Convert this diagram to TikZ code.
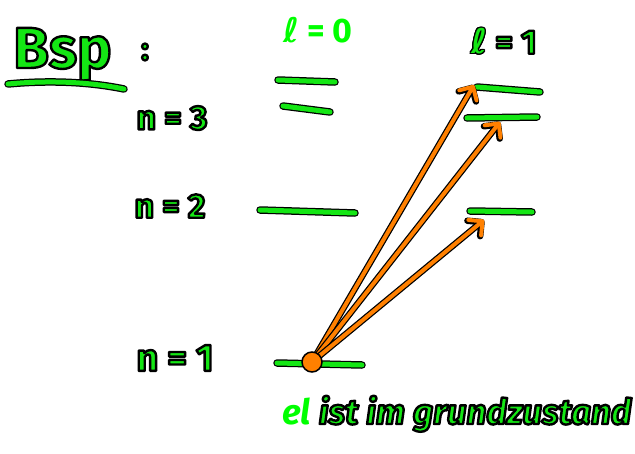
\documentclass[tikz,border=0pt]{standalone}
\usepackage{fontspec}
\setmainfont{Fira Sans}
\newfontfamily\dejavu{DejaVu Sans}
\usepackage{contour}
\contourlength{1.2pt}
\usetikzlibrary{arrows.meta}
\definecolor{hgreen}{RGB}{20,230,20}
\definecolor{lgreen}{RGB}{0,255,0}
\definecolor{horange}{RGB}{255,128,0}
\newcommand\outl[1]{\special{pdf:literal direct 2 Tr 2.4 w 0 G 1 j 0.078 0.902 0.078 rg}#1\special{pdf:literal direct 0 Tr}}
\tikzset{
  lev/.style={draw=hgreen, line width=5pt, line cap=round,
    preaction={draw=black, line width=7.5pt, line cap=round}},
  exc/.style={draw=horange, line width=4pt, line cap=round, line join=round,
    -{Straight Barb[length=10pt,width=20pt,round]},
    preaction={draw=black, line width=6.5pt, line cap=round, line join=round,
    -{Straight Barb[length=10pt,width=20pt,round]}}},
  lbl/.style={text=hgreen, inner sep=0pt},
  plain/.style={text=lgreen, inner sep=0pt}
}
\begin{document}
\begin{tikzpicture}[x=1pt,y=-1pt]
\useasboundingbox (0,0) rectangle (635,453);
% title
\node[lbl, font=\fontsize{58}{58}\selectfont\bfseries, anchor=base west] (bsp) at (13,68) {\outl{Bsp}};
\draw[lev] (8,84) .. controls (50,80) and (90,82) .. (124,89);
\node[lbl, font=\fontsize{32}{32}\selectfont\bfseries, anchor=center] (colon) at (145,52) {\outl{:}};
% column labels
\node[plain, font=\fontsize{34}{34}\selectfont\bfseries, anchor=center] (l0) at (318,30) {{\dejavu\bfseries ℓ} = 0};
\node[lbl, font=\fontsize{34}{34}\selectfont\bfseries, anchor=center] (l1) at (504,42) {\contour{black}{\dejavu\bfseries ℓ}\outl{ = 1}};
% row labels
\node[lbl, font=\fontsize{34}{34}\selectfont\bfseries, anchor=center] (n3) at (172,118) {\outl{n = 3}};
\node[lbl, font=\fontsize{34}{34}\selectfont\bfseries, anchor=center] (n2) at (170,206) {\outl{n = 2}};
\node[lbl, font=\fontsize{38}{38}\selectfont\bfseries, anchor=center] (n1) at (175,358) {\outl{n = 1}};
% level lines
\draw[lev] (278,80) -- (335,82);
\draw[lev] (283,106) -- (330,112);
\draw[lev] (260,210) -- (355,213);
\draw[lev] (277,363) -- (362,365);
\draw[lev] (477,87) -- (540,92);
\draw[lev] (467,118) -- (537,117);
\draw[lev] (470,211) -- (532,212);
% excitations
\coordinate (ec) at (312,362);
\coordinate (t31) at (474,85);
\coordinate (t32) at (500,122);
\coordinate (t21) at (484,220);
\draw[exc] (ec) -- (t31);
\draw[exc] (ec) -- (t32);
\draw[exc] (ec) -- (t21);
\node[circle, fill=horange, draw=black, line width=1.5pt, minimum size=20pt, inner sep=0pt] (e) at (ec) {};
% bottom text
\node[lbl, font=\fontsize{35}{35}\selectfont\bfseries\itshape, anchor=base west] (gz) at (282,424)
  {\textcolor{lgreen}{el} \outl{ist im grundzustand}};
\end{tikzpicture}
\end{document}
